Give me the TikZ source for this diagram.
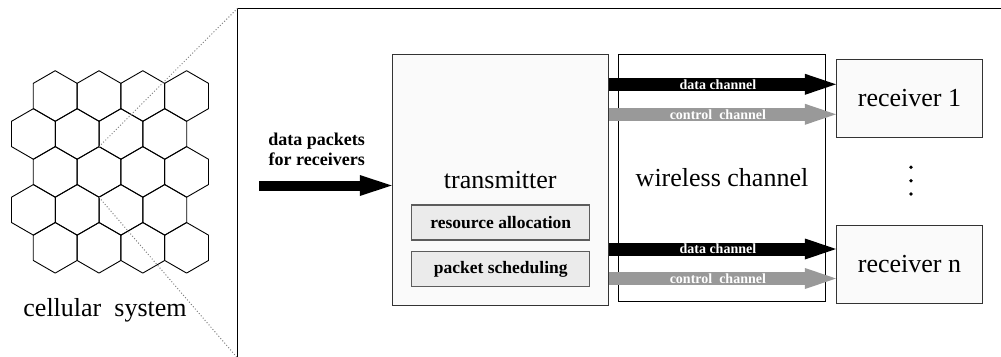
\documentclass[tikz,border=0pt]{standalone}
\usepackage{fontspec}
\setmainfont{Liberation Serif}
\usepackage{tikz}
\usetikzlibrary{arrows.meta,calc}
\definecolor{boxfill}{HTML}{FAFAFA}
\definecolor{subfill}{HTML}{EBEBEB}
\definecolor{ctrlgray}{HTML}{999999}
\definecolor{edgegray}{HTML}{333333}
\tikzset{
  cell/.style={draw=black, line width=0.9pt, line join=round},
  zoomline/.style={draw=gray, dotted, line width=1pt},
  zoomframe/.style={draw=black, line width=1.4pt},
  blockbox/.style={draw=edgegray, fill=boxfill, line width=1.1pt, inner sep=0pt},
  subbox/.style={draw=edgegray!80, fill=subfill, line width=1.1pt, inner sep=0pt,
    minimum width=178pt, minimum height=35pt, font=\fontsize{17.5}{20}\selectfont\bfseries},
  bigtext/.style={font=\fontsize{26}{30}\selectfont},
  inarrow/.style={draw=black, line width=10pt, -{Triangle[length=32pt,width=21pt,line width=0pt]}},
  datach/.style={draw=black, line width=13pt, -{Triangle[length=31pt,width=21pt,line width=0pt]}},
  ctrlch/.style={datach, draw=ctrlgray},
  chlab/.style={text=white, font=\fontsize{14}{16}\selectfont\bfseries}
}
\begin{document}
\begin{tikzpicture}[x=1pt,y=-1pt]
  \useasboundingbox (0,0) rectangle (1001,356);
  \clip (0,0) rectangle (1001,356);

  % cellular layout, 5 rows of 4 cells
  \foreach \row in {0,...,4}{
    \pgfmathsetmacro{\xo}{55.2-21.8*mod(\row,2)}
    \foreach \col in {0,...,3}{
      \draw[cell] (\xo+\col*43.8, 96+\row*37.95) +(90:25.3) -- +(30:25.3) -- +(-30:25.3)
        -- +(-90:25.3) -- +(-150:25.3) -- +(150:25.3) -- cycle;
    }
  }
  \coordinate (cz1) at (99,146.7);
  \coordinate (cz2) at (99,197.3);
  \node[bigtext] (cellname) at (105,310) {cellular\ \ system};

  % zoomed view
  \draw[zoomframe] (237.5,8.3) coordinate (fnw) rectangle (1010,358) coordinate (fse);
  \coordinate (fsw) at (fnw |- fse);
  \draw[zoomline] (cz1) -- (fnw);
  \draw[zoomline] (cz2) -- (fsw);

  \node[blockbox, minimum width=216pt, minimum height=251pt, bigtext] (tx) at (500.3,180) {transmitter};
  \node[subbox] (alloc) at (500.8,222.5) {resource allocation};
  \node[subbox] (sched) at (500.8,269.2) {packet scheduling};

  \node[draw=black, fill=white, line width=1.1pt, inner sep=0pt, minimum width=207pt,
    minimum height=247pt, bigtext] (wc) at (722,178) {wireless channel};

  \node[blockbox, minimum width=146pt, minimum height=78pt, bigtext] (r1) at (909.5,98.3) {receiver 1};
  \node[blockbox, minimum width=146pt, minimum height=78pt, bigtext] (rn) at (909.5,264.5) {receiver n};
  \foreach \y in {167.3,180.7,194} \fill (911,\y) circle (1.9pt);

  % incoming packets
  \node[align=center, font=\fontsize{18}{20}\selectfont\bfseries] (inlbl) at (316.7,149)
    {data packets\\for receivers};
  \coordinate (src) at (259.3,185.5);
  \draw[inarrow] (src) -- (src -| tx.west);

  % channels
  \coordinate (d1) at ([yshift=14pt]r1.west);
  \coordinate (c1) at ([yshift=-16pt]r1.west);
  \coordinate (dn) at ([yshift=15.5pt]rn.west);
  \coordinate (cn) at ([yshift=-14pt]rn.west);
  \draw[datach] (tx.east |- d1) -- (d1) node[chlab, pos=0.48] {data channel};
  \draw[ctrlch] (tx.east |- c1) -- (c1) node[chlab, pos=0.48] {control\ \ channel};
  \draw[datach] (tx.east |- dn) -- (dn) node[chlab, pos=0.48] {data channel};
  \draw[ctrlch] (tx.east |- cn) -- (cn) node[chlab, pos=0.48] {control\ \ channel};
\end{tikzpicture}
\end{document}
